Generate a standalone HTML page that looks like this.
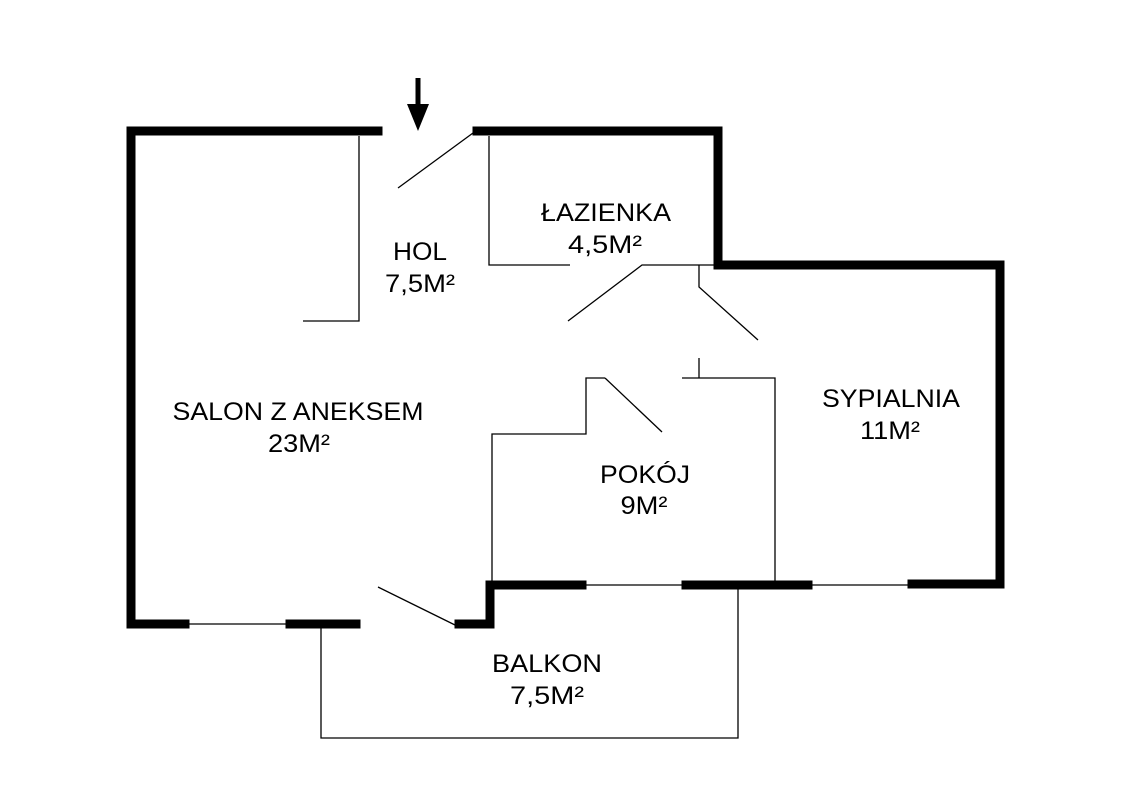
<!DOCTYPE html>
<html><head><meta charset="utf-8"><style>
html,body{margin:0;padding:0;background:#fff;}
svg{display:block}
text{font-family:"Liberation Sans",sans-serif;font-size:25px;fill:#000;text-anchor:middle}
</style></head><body>
<svg width="1123" height="794" viewBox="0 0 1123 794">
<g stroke="#000" stroke-width="9" fill="none" stroke-linecap="square">
<polyline points="378,131 131,131 131,624 185,624"/>
<polyline points="477,131 718,131 718,265 1000,265 1000,584 912,584"/>
<line x1="290" y1="624" x2="356" y2="624"/>
<polyline points="459,624 490,624 490,585 582,585"/>
<line x1="686" y1="585" x2="808" y2="585"/>
</g>
<g stroke="#000" stroke-width="1.3" fill="none">
<polyline points="303,321 359,321 359,136"/>
<line x1="398" y1="188" x2="473" y2="133"/>
<polyline points="489,136 489,265 570,265"/>
<polyline points="568,321 642,265 718,265"/>
<polyline points="699,265 699,287 758,340"/>
<polyline points="699,358 699,378"/>
<polyline points="682,378 775,378 775,585"/>
<polyline points="605,378 586,378 586,434 492,434 492,585"/>
<line x1="605" y1="378" x2="662" y2="432"/>
<line x1="582" y1="585" x2="686" y2="585"/>
<line x1="808" y1="585" x2="912" y2="585"/>
<line x1="185" y1="624" x2="290" y2="624"/>
<line x1="378" y1="587" x2="455" y2="625"/>
<polyline points="321,628 321,738 738,738 738,589"/>
</g>
<line x1="418" y1="78" x2="418" y2="108" stroke="#000" stroke-width="5"/>
<polygon points="407,104 429,104 418,131" fill="#000"/>
<text x="420" y="260" textLength="54" lengthAdjust="spacingAndGlyphs">HOL</text>
<text x="420" y="292" textLength="70" lengthAdjust="spacingAndGlyphs">7,5M²</text>
<text x="606" y="221" textLength="130" lengthAdjust="spacingAndGlyphs">ŁAZIENKA</text>
<text x="605" y="253" textLength="74" lengthAdjust="spacingAndGlyphs">4,5M²</text>
<text x="298" y="420" textLength="251" lengthAdjust="spacingAndGlyphs">SALON Z ANEKSEM</text>
<text x="299" y="452" textLength="62" lengthAdjust="spacingAndGlyphs">23M²</text>
<text x="645" y="483" textLength="90" lengthAdjust="spacingAndGlyphs">POKÓJ</text>
<text x="644" y="514" textLength="47" lengthAdjust="spacingAndGlyphs">9M²</text>
<text x="891" y="407" textLength="138" lengthAdjust="spacingAndGlyphs">SYPIALNIA</text>
<text x="890" y="439" textLength="60" lengthAdjust="spacingAndGlyphs">11M²</text>
<text x="547" y="672" textLength="110" lengthAdjust="spacingAndGlyphs">BALKON</text>
<text x="547" y="704" textLength="74" lengthAdjust="spacingAndGlyphs">7,5M²</text>
</svg>
</body></html>
